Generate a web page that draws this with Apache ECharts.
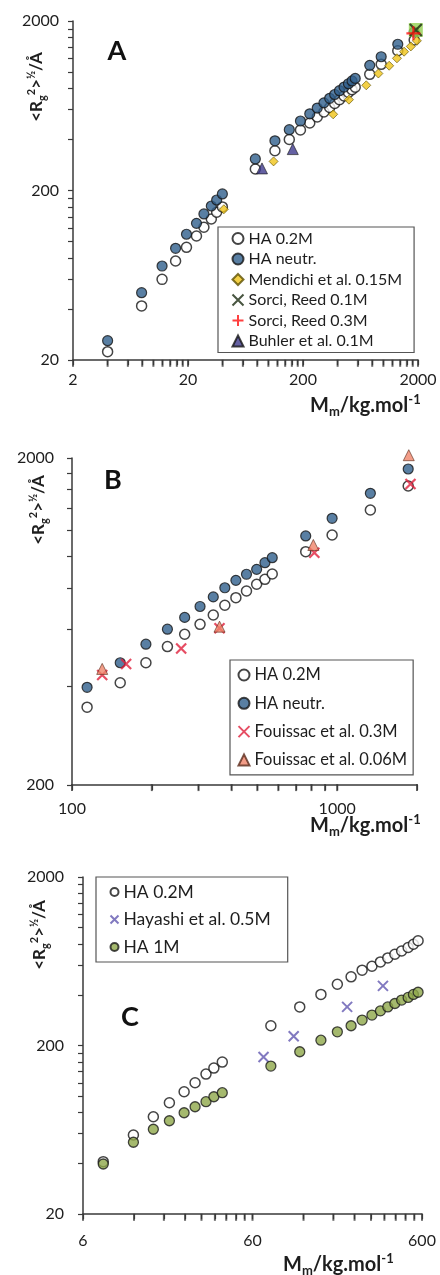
<!DOCTYPE html>
<html><head><meta charset="utf-8">
<script src="https://cdn.jsdelivr.net/npm/echarts@6/dist/echarts.min.js"></script>
<style>html,body{margin:0;padding:0;background:#fff}#c{width:440px;height:1275px}</style>
</head><body><div id="c"></div><script>
// ---------- Panel A ----------
const aHaM      = [4.0, 7.9, 11.9, 15.6, 19.4, 23.7, 27.5, 31.9, 35.5, 39.8, 77, 114, 152, 190, 229, 266, 304, 341, 377, 415, 455, 497, 534, 569, 761, 957, 1334, 1853];
const aHa02     = [22.4, 41.7, 59.8, 76.7, 92.4, 107.8, 121.4, 135.8, 148.8, 160, 268, 343, 400, 455, 500, 543, 581, 618, 652, 687, 722, 757, 787, 814, 969, 1110, 1336, 1546];
const aHaNeutr  = [26.0, 49.9, 71.7, 91.2, 110.4, 128, 145.4, 162, 175.8, 190.8, 307, 393, 457, 514, 567, 613, 658, 700, 737, 776, 815, 853, 886, 917, 1095, 1231, 1458, 1722];
const aMendM    = [41, 111, 366, 502, 710, 905, 1123, 1312, 1514, 1733, 1955];
const aMendR    = [155, 297, 563, 687, 835, 980, 1089, 1205, 1318, 1416, 1528];
const aSorci01M = [1914];
const aSorci01R = [1770];
const aSorci03M = [1824];
const aSorci03R = [1692];
const aBuhlerM  = [88, 163];
const aBuhlerR  = [270, 351];
const aXLabels  = [2, 20, 200, 2000];
const aYLabels  = [20, 200, 2000];
// ---------- Panel B ----------
const bHaM      = [114, 152, 190, 229, 266, 304, 341, 377, 415, 455, 497, 534, 569, 761, 957, 1334, 1853];
const bHa02     = [346, 411, 473, 530, 578, 620, 662, 709, 748, 784, 822, 851, 884, 1034, 1163, 1387, 1642];
const bHaNeutr  = [398, 473, 539, 599, 651, 703, 752, 802, 845, 882, 913, 957, 991, 1155, 1308, 1560, 1851];
const bFou03M   = [130, 160, 258, 360, 820, 1890];
const bFou03R   = [434, 469, 523, 603, 1026, 1666];
const bFou006M  = [130, 360, 813, 1862];
const bFou006R  = [453, 610, 1084, 2040];
const bXLabels  = [100, 1000];
const bYLabels  = [200, 2000];
// ---------- Panel C ----------
const cHaM      = [7.9, 11.9, 15.6, 19.4, 23.7, 27.5, 31.9, 35.5, 39.8, 77, 114, 152, 190, 229, 266, 304, 341, 377, 415, 455, 497, 534, 569];
const cHa02     = [40.9, 58.9, 75.6, 91.5, 106.3, 120.2, 135.3, 146.9, 159.4, 262, 339, 402, 462, 511, 560, 591, 627, 662, 696, 728, 763, 798, 837];
const cHa1M     = [39.6, 53.3, 63.7, 71.5, 79.8, 86.6, 92.8, 99.3, 104.9, 151, 183.6, 215, 241, 262, 283, 303, 321, 339, 355, 372, 386, 402, 414];
const cHayM     = [69.7, 105, 217, 353];
const cHayR     = [171, 227, 339, 452];
const cXLabels  = [6, 60, 600];
const cYLabels  = [20, 200, 2000];
// Excel-style tick positions (multiples of each axis minimum per decade)
const aXTicks = [2, 4, 6, 8, 10, 12, 14, 16, 18, 20, 40, 60, 80, 100, 120, 140, 160, 180, 200, 400, 600, 800, 1000, 1200, 1400, 1600, 1800, 2000];
const aYTicks = [20, 40, 60, 80, 100, 120, 140, 160, 180, 200, 400, 600, 800, 1000, 1200, 1400, 1600, 1800, 2000];
const bXTicks = [100, 200, 300, 400, 500, 600, 700, 800, 900, 1000, 2000];
const bYTicks = [200, 400, 600, 800, 1000, 1200, 1400, 1600, 1800, 2000];
const cXTicks = [6, 12, 18, 24, 30, 36, 42, 48, 54, 60, 120, 180, 240, 300, 360, 420, 480, 540, 600];
const cYTicks = [20, 40, 60, 80, 100, 120, 140, 160, 180, 200, 400, 600, 800, 1000, 1200, 1400, 1600, 1800, 2000];

const FONT = 'Lato';
const TXT = '#1e1e1e';
const AX = '#3a3a3a';

function logAxis(gi, min, max, labels, ticks, margin) {
  return {
    type: 'log', logBase: 10, gridIndex: gi, min: min, max: max,
    axisLine: { show: true, lineStyle: { color: AX, width: 1.5 } },
    axisTick: { show: true, customValues: ticks, length: 5, lineStyle: { color: AX, width: 1.2 } },
    axisLabel: { customValues: labels, margin: margin, fontFamily: FONT, fontSize: 16, color: TXT,
      formatter: function (v) { return String(Math.round(v)); } },
    splitLine: { show: false }, minorTick: { show: false }, minorSplitLine: { show: false }
  };
}
// x-axis tick marks placed through the axis scales: thin bars just below the axis line
function tickSeries(gi, vals, yMin) {
  const base = yMin * 1.01;
  return { type: 'scatter', name: 'ticks' + gi + 'x', xAxisIndex: gi, yAxisIndex: gi, clip: false, z: 6,
    data: vals.map(function (v) { return [v, base]; }),
    symbol: 'rect', symbolSize: [2, 7], symbolOffset: [0, 4],
    itemStyle: { color: '#3a3a3a' } };
}
const P_X = 'path://M0,0L10,10M10,0L0,10';
const P_PLUS = 'path://M5,0L5,10M0,5L10,5';
function pts(xs, ys) { return xs.map(function (x, i) { return [x, ys[i]]; }); }
function sc(name, gi, xs, ys, symbol, size, style, z) {
  return { type: 'scatter', name: name, xAxisIndex: gi, yAxisIndex: gi, data: pts(xs, ys),
    symbol: symbol, symbolSize: size, itemStyle: style, clip: false, z: z || 2,
    emphasis: { disabled: true }, silent: true };
}
const S_OPEN = { color: '#ffffff', borderColor: '#151515', borderWidth: 1.5 };
const S_BLUE = { color: '#2f5f8c', borderColor: '#151515', borderWidth: 1.2 };
const S_MEND = { color: '#f0c419', borderColor: '#5e5000', borderWidth: 0.8 };
const S_SORX = { color: 'none', borderColor: '#1a2a10', borderWidth: 2.2 };
const S_SORBG = { color: '#92d050', borderWidth: 0 };
const S_SORP = { color: 'none', borderColor: '#ff1010', borderWidth: 2.2 };
const S_BUHL = { color: '#3f3a8c', borderColor: '#151515', borderWidth: 0.8 };
const S_FOUX = { color: 'none', borderColor: '#e0203c', borderWidth: 2.2 };
const S_FOUT = { color: '#f0846a', borderColor: '#5a2a1a', borderWidth: 0.8 };
const S_HAYX = { color: 'none', borderColor: '#6257b0', borderWidth: 2.0 };
const S_HA1M = { color: '#8ea84a', borderColor: '#1a1a1a', borderWidth: 1.3 };

function legend(names, left, top, padding, gap, lh, iw, fs) {
  return { data: names, orient: 'vertical', left: left, top: top, padding: padding, itemGap: gap,
    itemWidth: iw, itemHeight: iw, selectedMode: false,
    textStyle: { fontFamily: FONT, fontSize: fs, lineHeight: lh, color: TXT },
    borderColor: '#555', borderWidth: 1.2, backgroundColor: '#fff' };
}
function rich(fs, small) {
  return { n: { fontFamily: FONT, fontSize: fs, fontWeight: 'bold', lineHeight: fs + 5, fill: TXT },
    sub: { fontFamily: FONT, fontSize: small, fontWeight: 'bold', verticalAlign: 'bottom', lineHeight: small, fill: TXT },
    sup: { fontFamily: FONT, fontSize: small, fontWeight: 'bold', verticalAlign: 'top', lineHeight: small, fill: TXT } };
}
const yTitle = '{n|<R}{sub|g}{sup|2}{n|>}{sup|½}{n|/Å}';
const xTitle = '{n|M}{sub|m}{n|/kg.mol}{sup|-1}';
function yName(x, y) { return { type: 'text', x: x, y: y, rotation: Math.PI / 2, silent: true,
  style: { text: yTitle, rich: rich(17, 11), align: 'center', verticalAlign: 'middle', fill: TXT } }; }
function xName(x, y) { return { type: 'text', x: x, y: y, silent: true,
  style: { text: xTitle, rich: rich(20, 13), align: 'left', verticalAlign: 'middle', fill: TXT } }; }
function letter(t, x, y) { return { type: 'text', x: x, y: y, silent: true,
  style: { text: t, font: 'bold 27px ' + FONT, fill: '#111', align: 'center', verticalAlign: 'middle' } }; }

const option = {
  animation: false,
  backgroundColor: '#fff',
  grid: [
    { left: 73, top: 21, width: 345, height: 339 },
    { left: 72, top: 458, width: 345, height: 327 },
    { left: 83, top: 877, width: 339, height: 337 }
  ],
  xAxis: [ logAxis(0, 2, 2000, aXLabels, aXTicks, 12), logAxis(1, 100, 2000, bXLabels, bXTicks, 16), logAxis(2, 6, 600, cXLabels, cXTicks, 19) ],
  yAxis: [ logAxis(0, 20, 2000, aYLabels, aYTicks, 14), logAxis(1, 200, 2000, bYLabels, bYTicks, 18), logAxis(2, 20, 2000, cYLabels, cYTicks, 19) ],
  legend: [
    legend(['HA 0.2M', 'HA neutr.', 'Mendichi et al. 0.15M', 'Sorci, Reed 0.1M', 'Sorci, Reed 0.3M', 'Buhler et al. 0.1M'], 218, 227, [2, 12, 2, 12], 1.5, 19, 11, 16),
    legend(['HA 0.2M', 'HA neutr.', 'Fouissac et al. 0.3M', 'Fouissac et al. 0.06M'], 230, 660, [5, 6, 5, 6], 8.3, 20, 11, 16.5),
    legend(['HA 0.2M', 'Hayashi et al. 0.5M', 'HA 1M'], 96, 877, [5, 17, 5, 12], 7.5, 20, 8, 17.5)
  ],
  series: [
    sc('HA 0.2M', 0, aHaM, aHa02, 'circle', 10, S_OPEN),
    sc('HA neutr.', 0, aHaM, aHaNeutr, 'circle', 10, S_BLUE),
    sc('Mendichi et al. 0.15M', 0, aMendM, aMendR, 'diamond', 9, S_MEND),
    sc('Sorci, Reed 0.1M', 0, aSorci01M, aSorci01R, P_X, 12, S_SORX, 4),
    sc('sorciBg', 0, aSorci01M, aSorci01R, 'rect', 14, S_SORBG, 3),
    sc('Sorci, Reed 0.3M', 0, aSorci03M, aSorci03R, P_PLUS, 14, S_SORP, 5),
    sc('Buhler et al. 0.1M', 0, aBuhlerM, aBuhlerR, 'triangle', 11, S_BUHL, 5),

    sc('HA 0.2M', 1, bHaM, bHa02, 'circle', 10, S_OPEN),
    sc('HA neutr.', 1, bHaM, bHaNeutr, 'circle', 10, S_BLUE),
    sc('Fouissac et al. 0.3M', 1, bFou03M, bFou03R, P_X, 10, S_FOUX, 3),
    sc('Fouissac et al. 0.06M', 1, bFou006M, bFou006R, 'triangle', 11, S_FOUT, 3),

    sc('HA 0.2M', 2, cHaM, cHa02, 'circle', 10, S_OPEN),
    sc('Hayashi et al. 0.5M', 2, cHayM, cHayR, P_X, 10, S_HAYX),
    sc('HA 1M', 2, cHaM, cHa1M, 'circle', 10, S_HA1M, 3),

    tickSeries(0, aXTicks, 20),
    tickSeries(1, bXTicks, 200),
    tickSeries(2, cXTicks, 20)
  ],
  graphic: [
    yName(37, 87), yName(39, 510), yName(40, 935),
    xName(310, 406), xName(310, 826), xName(283, 1265),
    letter('A', 117, 51), letter('B', 113, 480), letter('C', 130, 1017)
  ]
};
const chart = echarts.init(document.getElementById('c'), null, { renderer: 'canvas' });
chart.setOption(option);
</script></body></html>
